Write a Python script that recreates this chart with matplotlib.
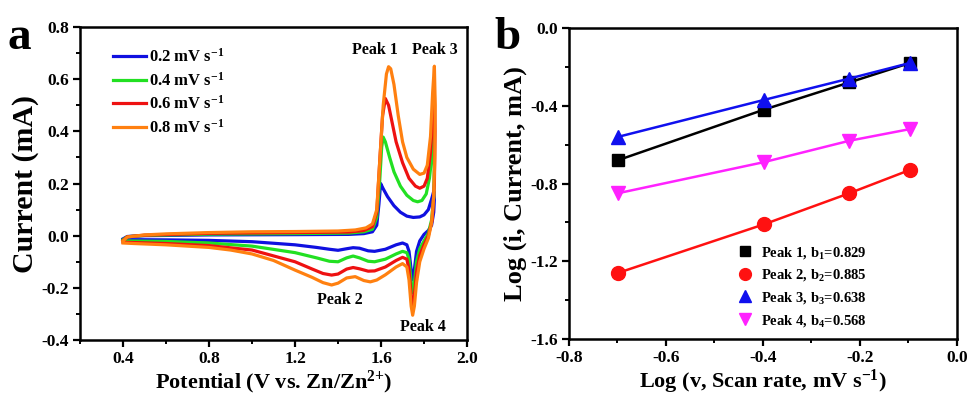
import matplotlib
matplotlib.use("Agg")
import matplotlib.pyplot as plt
from matplotlib.ticker import MultipleLocator

plt.rcParams['font.family'] = ['Liberation Serif', 'DejaVu Serif']
plt.rcParams['font.weight'] = 'bold'
plt.rcParams['mathtext.fontset'] = 'custom'
plt.rcParams['mathtext.rm'] = 'Liberation Serif:bold'
plt.rcParams['mathtext.it'] = 'Liberation Serif:italic:bold'
plt.rcParams['mathtext.bf'] = 'Liberation Serif:bold'

# ---------------- Panel a: CV curves ----------------
scan_labels = ['0.2 mV s$^{-1}$', '0.4 mV s$^{-1}$', '0.6 mV s$^{-1}$', '0.8 mV s$^{-1}$']
cv_colors = ['#1010e0', '#22e022', '#ee1111', '#ff8010']

v_02 = [0.40, 0.42, 0.50, 0.80, 1.20, 1.45, 1.52, 1.56, 1.58, 1.59, 1.598, 1.61, 1.63, 1.66, 1.69,
        1.72, 1.75, 1.78, 1.80, 1.82, 1.835, 1.845,
        1.848, 1.845, 1.835, 1.82, 1.80, 1.78, 1.765, 1.755, 1.748, 1.74, 1.73, 1.72, 1.70, 1.67,
        1.62, 1.57, 1.54, 1.50, 1.47, 1.44, 1.40, 1.36, 1.30, 1.20, 1.00, 0.80, 0.60, 0.40]
i_02 = [-0.012, -0.003, 0.000, 0.003, 0.004, 0.005, 0.008, 0.015, 0.040, 0.120, 0.200, 0.180, 0.150,
        0.115, 0.090, 0.075, 0.070, 0.072, 0.080, 0.100, 0.140, 0.170,
        0.140, 0.090, 0.040, 0.020, 0.005, -0.020, -0.060, -0.130, -0.170, -0.130, -0.060, -0.035,
        -0.028, -0.035, -0.052, -0.060, -0.058, -0.048, -0.046, -0.050, -0.056, -0.052, -0.045,
        -0.035, -0.023, -0.018, -0.016, -0.015]

v_04 = [0.40, 0.42, 0.50, 0.80, 1.20, 1.45, 1.52, 1.56, 1.58, 1.593, 1.603, 1.61, 1.62, 1.64, 1.66,
        1.69, 1.72, 1.75, 1.77, 1.79, 1.81, 1.825, 1.84, 1.846,
        1.848, 1.845, 1.835, 1.82, 1.80, 1.78, 1.765, 1.755, 1.748, 1.74, 1.73, 1.72, 1.70, 1.67,
        1.62, 1.57, 1.54, 1.50, 1.47, 1.44, 1.40, 1.36, 1.30, 1.20, 1.00, 0.80, 0.60, 0.40]
i_04 = [-0.015, -0.004, 0.001, 0.006, 0.008, 0.010, 0.015, 0.025, 0.070, 0.200, 0.340, 0.378, 0.360,
        0.300, 0.245, 0.190, 0.155, 0.135, 0.130, 0.135, 0.160, 0.220, 0.330, 0.400,
        0.300, 0.150, 0.060, 0.010, -0.020, -0.050, -0.100, -0.180, -0.220, -0.180, -0.090, -0.065,
        -0.060, -0.070, -0.090, -0.100, -0.098, -0.085, -0.078, -0.085, -0.100, -0.098, -0.085,
        -0.065, -0.040, -0.028, -0.022, -0.020]

v_06 = [0.40, 0.42, 0.50, 0.80, 1.20, 1.45, 1.52, 1.56, 1.58, 1.595, 1.607, 1.62, 1.635, 1.65, 1.67,
        1.70, 1.73, 1.76, 1.78, 1.80, 1.815, 1.83, 1.84, 1.848,
        1.851, 1.848, 1.838, 1.82, 1.80, 1.78, 1.765, 1.755, 1.747, 1.74, 1.73, 1.72, 1.70, 1.67,
        1.62, 1.57, 1.54, 1.50, 1.47, 1.44, 1.40, 1.37, 1.33, 1.28, 1.20, 1.00, 0.80, 0.60, 0.40]
i_06 = [-0.018, -0.004, 0.002, 0.009, 0.012, 0.014, 0.020, 0.035, 0.090, 0.300, 0.460, 0.526, 0.500,
        0.440, 0.360, 0.280, 0.220, 0.190, 0.182, 0.190, 0.220, 0.320, 0.450, 0.550,
        0.400, 0.200, 0.060, 0.000, -0.035, -0.075, -0.140, -0.230, -0.270, -0.230, -0.130, -0.090,
        -0.083, -0.095, -0.120, -0.135, -0.136, -0.127, -0.122, -0.128, -0.147, -0.151, -0.145,
        -0.128, -0.100, -0.055, -0.038, -0.030, -0.025]

v_08 = [0.40, 0.42, 0.50, 0.60, 0.80, 1.00, 1.20, 1.40, 1.48, 1.53, 1.56, 1.58, 1.595, 1.61, 1.625,
        1.635, 1.645, 1.66, 1.68, 1.70, 1.72, 1.75, 1.78, 1.80, 1.815, 1.83, 1.84, 1.848,
        1.852, 1.85, 1.845, 1.835, 1.82, 1.80, 1.78, 1.765, 1.755, 1.747, 1.74, 1.73, 1.72, 1.70,
        1.67, 1.62, 1.58, 1.55, 1.52, 1.48, 1.44, 1.40, 1.37, 1.33, 1.28, 1.20, 1.10, 1.00, 0.90,
        0.80, 0.60, 0.45, 0.40]
i_08 = [-0.020, -0.005, 0.003, 0.007, 0.012, 0.015, 0.016, 0.018, 0.022, 0.030, 0.045, 0.100, 0.300,
        0.500, 0.620, 0.648, 0.640, 0.580, 0.460, 0.360, 0.300, 0.255, 0.235, 0.240, 0.270, 0.380,
        0.550, 0.650,
        0.500, 0.300, 0.150, 0.050, -0.010, -0.050, -0.100, -0.180, -0.270, -0.305, -0.270, -0.170,
        -0.120, -0.107, -0.120, -0.150, -0.170, -0.177, -0.172, -0.157, -0.162, -0.182, -0.189,
        -0.180, -0.160, -0.132, -0.095, -0.070, -0.055, -0.045, -0.035, -0.030, -0.028]

cv_v = [v_02, v_04, v_06, v_08]
cv_i = [i_02, i_04, i_06, i_08]

# ---------------- Panel b: log(i) vs log(v) ----------------
log_v = [-0.699, -0.398, -0.222, -0.097]
peak1 = [-0.68, -0.42, -0.28, -0.18]
peak2 = [-1.26, -1.01, -0.85, -0.73]
peak3 = [-0.56, -0.37, -0.26, -0.18]
peak4 = [-0.85, -0.69, -0.58, -0.52]
peak_labels = ['Peak 1, b$_1$=0.829', 'Peak 2, b$_2$=0.885',
               'Peak 3, b$_3$=0.638', 'Peak 4, b$_4$=0.568']

fig = plt.figure(figsize=(9.69, 3.98), dpi=100)
ax1 = fig.add_axes([0.0826, 0.1457, 0.3994, 0.7863])
ax2 = fig.add_axes([0.5872, 0.1482, 0.4004, 0.7814])

def style(ax):
    for s in ax.spines.values():
        s.set_linewidth(1.8)
    ax.tick_params(which='major', direction='out', length=5, width=1.6, labelsize=12.5,
                   top=False, right=False, pad=3)
    ax.tick_params(which='minor', direction='out', length=3, width=1.4, top=False, right=False)
    for lab in ax.get_xticklabels() + ax.get_yticklabels():
        lab.set_fontweight('bold')

for v, i, c, lab in zip(cv_v, cv_i, cv_colors, scan_labels):
    ax1.plot(v, i, color=c, lw=2.3, label=lab, solid_joinstyle='round')
ax1.set_xlim(0.2, 2.0)
ax1.set_ylim(-0.4, 0.8)
ax1.xaxis.set_minor_locator(MultipleLocator(0.2))
ax1.yaxis.set_minor_locator(MultipleLocator(0.1))
ax1.set_xticks([0.4, 0.8, 1.2, 1.6, 2.0])
ax1.set_xticklabels(['0.4', '0.8', '1.2', '1.6', '2.0'])
ax1.set_yticks([-0.4, -0.2, 0.0, 0.2, 0.4, 0.6, 0.8])
ax1.set_yticklabels(['-0.4', '-0.2', '0.0', '0.2', '0.4', '0.6', '0.8'])
style(ax1)
ax1.set_xlabel(r'Potential (V vs. Zn/Zn$^{\text{2+}}$)', fontsize=16, fontweight='bold', labelpad=1)
ax1.set_ylabel('Current (mA)', fontsize=21.5, fontweight='bold', labelpad=2)
ax1.legend(loc='upper left', bbox_to_anchor=(0.068, 0.955), frameon=False, fontsize=12,
           handlelength=2.0, handletextpad=0.15, labelspacing=0.35, borderaxespad=0)
ax1.text(1.572, 0.711, 'Peak 1', ha='center', va='center', fontsize=11.5, fontweight='bold')
ax1.text(1.851, 0.711, 'Peak 3', ha='center', va='center', fontsize=11.5, fontweight='bold')
ax1.text(1.409, -0.247, 'Peak 2', ha='center', va='center', fontsize=11.5, fontweight='bold')
ax1.text(1.795, -0.35, 'Peak 4', ha='center', va='center', fontsize=11.5, fontweight='bold')

ax2.plot(log_v, peak1, color='black', lw=1.8, marker='s', ms=8, label=peak_labels[0])
ax2.plot(log_v, peak2, color='#ff1111', lw=1.8, marker='o', ms=10, label=peak_labels[1])
ax2.plot(log_v, peak3, color='#1010ee', lw=1.8, marker='^', ms=10, label=peak_labels[2])
ax2.plot(log_v, peak4, color='#ff22ff', lw=1.8, marker='v', ms=10, label=peak_labels[3])
ax2.set_xlim(-0.8, 0.0)
ax2.set_ylim(-1.6, 0.0)
ax2.set_xticks([-0.8, -0.6, -0.4, -0.2, 0.0])
ax2.set_xticklabels(['-0.8', '-0.6', '-0.4', '-0.2', '0.0'])
ax2.set_yticks([-1.6, -1.2, -0.8, -0.4, 0.0])
ax2.set_yticklabels(['-1.6', '-1.2', '-0.8', '-0.4', '0.0'])
ax2.xaxis.set_minor_locator(MultipleLocator(0.1))
ax2.yaxis.set_minor_locator(MultipleLocator(0.2))
style(ax2)
ax2.set_xlabel('Log (v, Scan rate, mV s$^{-1}$)', fontsize=16, fontweight='bold', labelpad=1)
ax2.set_ylabel('Log (i, Current, mA)', fontsize=19, fontweight='bold', labelpad=2)
ax2.legend(loc='lower left', bbox_to_anchor=(0.42, 0.015), frameon=False, fontsize=10.5,
           handlelength=1.0, handletextpad=0.6, labelspacing=0.45, borderaxespad=0,
           markerscale=0.85)
for h in ax2.get_legend().get_lines():
    h.set_linestyle('none')

fig.text(0.008, 0.905, 'a', fontsize=34, fontweight='bold', va='center')
fig.text(0.51, 0.905, 'b', fontsize=34, fontweight='bold', va='center')

fig.savefig('out.png', dpi=100)
